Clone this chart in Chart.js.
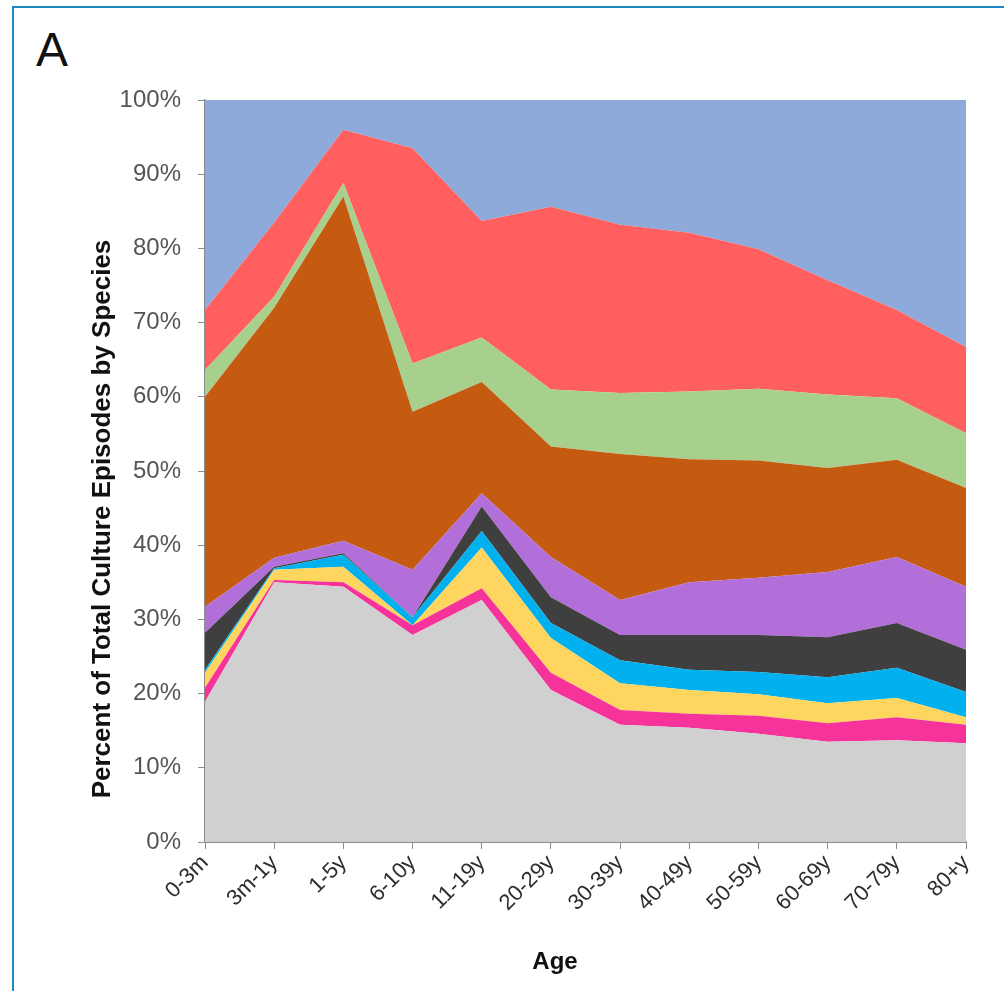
<!DOCTYPE html>
<html>
<head>
<meta charset="utf-8">
<script src="https://cdn.jsdelivr.net/npm/chart.js@4.4.1/dist/chart.umd.min.js"></script>
<style>
  html, body { margin: 0; padding: 0; background: #ffffff; overflow: hidden; }
  body { width: 1004px; height: 991px; position: relative; }
  #frame {
    position: absolute; left: 12px; top: 6px; width: 1100px; height: 1100px;
    border: 2px solid #1b8bc2; box-sizing: border-box;
  }
  #panel {
    position: absolute; left: 36px; top: 22px;
    font: 48px "Liberation Sans", Arial, sans-serif; color: #111;
  }
  #wrap { position: absolute; left: 0; top: 0; width: 1004px; height: 991px; }
</style>
</head>
<body>
<div id="frame"></div>
<div id="panel">A</div>
<div id="wrap"><canvas id="chart" width="1004" height="991"></canvas></div>
<script>
// Age groups along the x axis
const ageGroups = ['0-3m', '3m-1y', '1-5y', '6-10y', '11-19y', '20-29y', '30-39y',
                   '40-49y', '50-59y', '60-69y', '70-79y', '80+y'];

// Share of culture episodes (%) for each species group, bottom layer first
const grayShare   = [18.9, 35.0, 34.4, 27.9, 32.6, 20.5, 15.8, 15.4, 14.6, 13.5, 13.7, 13.3];
const pinkShare   = [1.9, 0.3, 0.6, 1.3, 1.6, 2.3, 2.0, 1.9, 2.4, 2.5, 3.1, 2.5];
const yellowShare = [2.0, 1.4, 2.1, 0.0, 5.5, 4.7, 3.6, 3.2, 2.9, 2.7, 2.6, 1.0];
const cyanShare   = [0.4, 0.2, 1.6, 1.1, 2.2, 2.0, 3.1, 2.7, 3.0, 3.5, 4.1, 3.4];
const darkShare   = [5.0, 0.2, 0.2, 0.0, 3.3, 3.5, 3.4, 4.7, 5.0, 5.4, 6.0, 5.7];
const purpleShare = [3.5, 1.2, 1.7, 6.4, 1.8, 5.4, 4.7, 7.1, 7.7, 8.8, 8.9, 8.5];
const orangeShare = [28.3, 33.7, 46.4, 21.3, 15.0, 14.9, 19.7, 16.6, 15.8, 14.0, 13.1, 13.3];
const greenShare  = [3.6, 1.5, 1.8, 6.5, 6.0, 7.7, 8.2, 9.1, 9.7, 9.9, 8.3, 7.4];
const redShare    = [8.1, 10.0, 7.2, 29.0, 15.7, 24.6, 22.7, 21.4, 18.8, 15.4, 11.9, 11.6];
const blueShare   = [28.3, 16.5, 4.0, 6.5, 16.3, 14.4, 16.8, 17.9, 20.1, 24.3, 28.3, 33.3];

// Y axis tick values
const percentTicks = [0, 10, 20, 30, 40, 50, 60, 70, 80, 90, 100];

const layers = [
  { data: grayShare,   color: '#d0d0d0' },
  { data: pinkShare,   color: '#f5339a' },
  { data: yellowShare, color: '#fdd55f' },
  { data: cyanShare,   color: '#00b0ef' },
  { data: darkShare,   color: '#3f3f3f' },
  { data: purpleShare, color: '#b26fd9' },
  { data: orangeShare, color: '#c55a11' },
  { data: greenShare,  color: '#a8d08d' },
  { data: redShare,    color: '#ff5f5f' },
  { data: blueShare,   color: '#8eaadb' }
];

const datasets = layers.map((l, i) => ({
  data: l.data,
  backgroundColor: l.color,
  borderColor: l.color,
  borderWidth: 0,
  pointRadius: 0,
  pointHoverRadius: 0,
  tension: 0,
  fill: i === 0 ? 'origin' : '-1'
}));

const fontFamily = '"Liberation Sans", Arial, sans-serif';

// Axis titles, placed by hand beside the axes
const axisTitles = {
  id: 'axisTitles',
  afterDraw(chart) {
    const ctx = chart.ctx;
    ctx.save();
    ctx.fillStyle = '#111111';
    ctx.font = 'bold 26px ' + fontFamily;
    ctx.textAlign = 'center';
    ctx.textBaseline = 'middle';
    ctx.translate(103, 519);
    ctx.rotate(-Math.PI / 2);
    ctx.fillText('Percent of Total Culture Episodes by Species', 0, 0);
    ctx.restore();

    ctx.save();
    ctx.fillStyle = '#111111';
    ctx.font = 'bold 24px ' + fontFamily;
    ctx.textAlign = 'center';
    ctx.textBaseline = 'middle';
    ctx.fillText('Age', 555, 962);
    ctx.restore();
  }
};

new Chart(document.getElementById('chart'), {
  type: 'line',
  data: { labels: ageGroups, datasets },
  plugins: [axisTitles],
  options: {
    responsive: false,
    animation: false,
    events: [],
    layout: { padding: { left: 88, top: 100, right: 38, bottom: 0 } },
    plugins: { legend: { display: false }, tooltip: { enabled: false } },
    scales: {
      x: {
        offset: false,
        afterFit: s => { s.height = 149; },
        grid: { drawOnChartArea: false, drawTicks: true, tickLength: 7, color: '#8c8c8c' },
        border: { color: '#8c8c8c', width: 2 },
        ticks: {
          autoSkip: false, minRotation: 45, maxRotation: 45, padding: 1,
          color: '#2e2e2e',
          font: { family: fontFamily, size: 22 }
        }
      },
      y: {
        stacked: true,
        min: 0, max: 100,
        afterFit: s => { s.width = 117; },
        afterBuildTicks: s => { s.ticks = percentTicks.map(v => ({ value: v })); },
        grid: { drawOnChartArea: false, drawTicks: true, tickLength: 7, color: '#8c8c8c' },
        border: { color: '#8c8c8c', width: 1.5 },
        ticks: {
          padding: 17, color: '#555555',
          font: { family: fontFamily, size: 24 },
          callback: v => v + '%'
        }
      }
    }
  }
});
</script>
</body>
</html>
